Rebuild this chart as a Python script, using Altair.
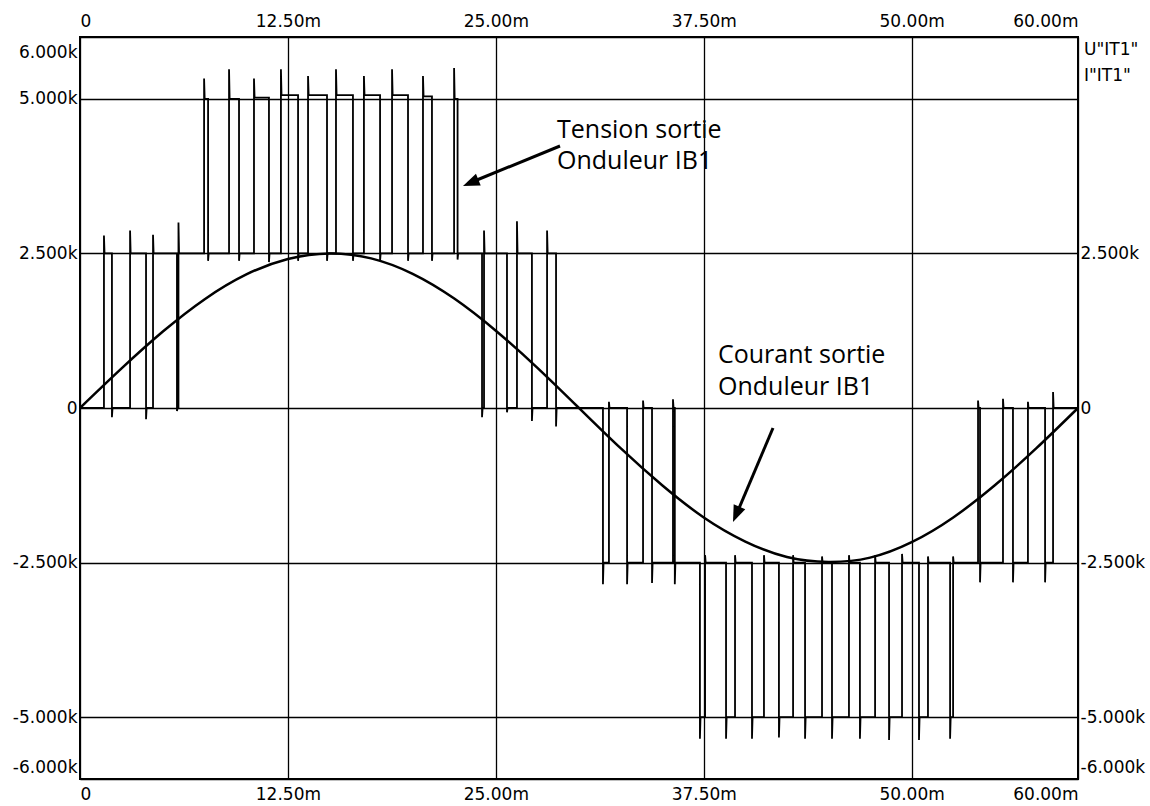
import altair as alt
import pandas as pd

# ---------------- data ----------------
x_ticks = [0, 12.5, 25, 37.5, 50, 60]            # ms
y_ticks_left = [-6, -5, -2.5, 0, 2.5, 5, 6]      # k
y_ticks_right = [-6, -5, -2.5, 0, 2.5]

# output current (k), sampled every 2.5 ms
cur_t = [0, 2.5, 5, 7.5, 10, 12.5, 15, 17.5, 20, 22.5, 25, 27.5, 30,
         32.5, 35, 37.5, 40, 42.5, 45, 47.5, 50, 52.5, 55, 57.5, 60]
cur_v = [0.0, 0.64, 1.24, 1.76, 2.16, 2.41, 2.50, 2.42, 2.17, 1.77, 1.25, 0.65, 0.0,
         -0.65, -1.25, -1.77, -2.16, -2.41, -2.49, -2.42, -2.17, -1.77, -1.25, -0.65, 0.0]

# output voltage: switching instants (ms), level after each switching (k),
# and the extreme value of the switching spike (k)
edge_t = [
    1.44, 1.92, 3.01, 3.97, 4.39, 5.83, 5.92,
    7.46, 7.70, 8.96, 9.56, 10.46, 11.36, 12.08, 13.11, 13.71, 14.85,
    15.39, 16.41, 17.07, 18.04, 18.76, 19.72, 20.62, 21.16, 22.49, 22.70,
    24.17, 24.29, 25.67, 26.27, 27.17, 28.08, 28.62,
    31.44, 31.80, 32.89, 33.85, 34.39, 35.65, 35.76,
    37.27, 37.58, 38.84, 39.38, 40.40, 41.12, 42.02, 42.87, 43.59, 44.61,
    45.21, 46.23, 46.89, 47.80, 48.64, 49.42, 50.44, 50.98, 52.31, 52.49,
    53.99, 54.11, 55.49, 56.09, 56.99, 58.02, 58.50,
]
edge_level = [
    2.5, 0, 2.5, 0, 2.5, 0, 2.5,
    5.0, 2.5, 5.0, 2.5, 5.02, 2.5, 5.06, 2.5, 5.06, 2.5,
    5.06, 2.5, 5.06, 2.5, 5.06, 2.5, 5.04, 2.5, 5.0, 2.5,
    0, 2.5, 0, 2.5, 0, 2.5, 0,
    -2.5, 0, -2.5, 0, -2.5, 0, -2.5,
    -5.0, -2.5, -5.0, -2.5, -5.0, -2.5, -5.0, -2.5, -5.0, -2.5,
    -5.0, -2.5, -5.0, -2.5, -5.0, -2.5, -5.0, -2.5, -5.0, -2.5,
    0, -2.5, 0, -2.5, 0, -2.5, 0,
]
edge_peak = [
    2.79, -0.15, 2.87, -0.18, 2.80, -0.05, 3.00,
    5.33, 2.38, 5.48, 2.38, 5.33, 2.36, 5.48, 2.38, 5.37, 2.38,
    5.48, 2.38, 5.37, 2.38, 5.48, 2.38, 5.37, 2.38, 5.50, 2.40,
    -0.15, 2.87, -0.07, 3.02, -0.21, 2.87, -0.30,
    -2.85, 0.10, -2.85, 0.12, -2.83, 0.14, -2.85,
    -5.35, -2.38, -5.35, -2.38, -5.35, -2.38, -5.33, -2.38, -5.35, -2.40,
    -5.35, -2.38, -5.35, -2.38, -5.37, -2.36, -5.37, -2.40, -5.35, -2.40,
    0.12, -2.82, 0.15, -2.82, 0.10, -2.82, 0.26,
]

ann_tension = ["Tension sortie", "Onduleur IB1"]
ann_courant = ["Courant sortie", "Onduleur IB1"]
legend_names = ['U"IT1"', 'I"IT1"']

# ---------------- tables ----------------
SETTLE = 0.035
vt, vv = [0.0], [0.0]
prev = 0.0
for t, lv, pk in zip(edge_t, edge_level, edge_peak):
    vt += [t, t, t + SETTLE]
    vv += [prev, pk, lv]
    prev = lv
vt.append(60.0)
vv.append(prev)
vdf = pd.DataFrame({"t": vt, "v": vv, "i": list(range(len(vt)))})
cdf = pd.DataFrame({"t": cur_t, "v": cur_v})

# ---------------- chart ----------------
FONT = "DejaVu Sans"
ANN_FONT = "Open Sans"
W, H = 998, 742

xscale = alt.Scale(domain=[0, 60], nice=False, zero=False)
yscale = alt.Scale(domain=[-6, 6], nice=False, zero=False)

xlab = "datum.value == 0 ? '0' : format(datum.value, '.2f') + 'm'"
ylab = ("datum.value == 0 ? '0' : (datum.value < 0 ? '-' : '') + "
        "format(abs(datum.value), '.3f') + 'k'")
yoff = {"expr": "datum.value >= 6 ? 15 : (datum.value <= -6 ? -12 : 0)"}

common = dict(ticks=False, domain=False, title=None, labelFont=FONT,
              labelFontSize=17, labelColor="black")

volt = alt.Chart(vdf).mark_line(color="black", strokeWidth=1.8).encode(
    x=alt.X("t:Q", scale=xscale,
            axis=alt.Axis(orient="bottom", values=x_ticks, labelExpr=xlab,
                          labelFlush=True, labelPadding=7, grid=True,
                          gridColor="black", gridWidth=1.3, gridOpacity=1,
                          **common)),
    y=alt.Y("v:Q", scale=yscale,
            axis=alt.Axis(orient="left", values=y_ticks_left, labelExpr=ylab,
                          labelPadding=3, labelOffset=yoff, grid=True,
                          gridColor="black", gridWidth=1.3, gridOpacity=1,
                          **common)),
    order=alt.Order("i:Q"),
)

cur = alt.Chart(cdf).mark_line(color="black", strokeWidth=2.5,
                               interpolate="natural").encode(
    x=alt.X("t:Q", scale=xscale,
            axis=alt.Axis(orient="top", values=x_ticks, labelExpr=xlab,
                          labelFlush=True, labelPadding=7, grid=False, **common)),
    y=alt.Y("v:Q", scale=yscale,
            axis=alt.Axis(orient="right", values=y_ticks_right, labelExpr=ylab,
                          labelPadding=2, labelOffset=yoff, grid=False, **common)),
)


def text_layer(s, x, y, font, size, baseline="alphabetic"):
    return alt.Chart(pd.DataFrame({"s": [s]})).mark_text(
        align="left", baseline=baseline, font=font, fontSize=size, color="black"
    ).encode(x=alt.value(x), y=alt.value(y), text="s:N")


texts = [
    text_layer(ann_tension[0], 477, 101, ANN_FONT, 25),
    text_layer(ann_tension[1], 477, 132, ANN_FONT, 25),
    text_layer(ann_courant[0], 638, 326, ANN_FONT, 25),
    text_layer(ann_courant[1], 638, 358, ANN_FONT, 25),
    text_layer(legend_names[0], 1004, 13, FONT, 17, "middle"),
    text_layer(legend_names[1], 1004, 39, FONT, 17, "middle"),
]

HEAD = "M0,0L0.38,1L-0.38,1Z"


def arrow(x1, y1, x2, y2, xe, ye, ang):
    line = alt.Chart(pd.DataFrame({"a": [0]})).mark_rule(
        color="black", strokeWidth=3).encode(
        x=alt.value(x1), y=alt.value(y1), x2=alt.value(xe), y2=alt.value(ye))
    head = alt.Chart(pd.DataFrame({"a": [0]})).mark_point(
        shape=HEAD, filled=True, color="black", opacity=1, size=1100,
        angle=ang, strokeWidth=0).encode(x=alt.value(x2), y=alt.value(y2))
    return [line, head]


arrows = (arrow(480, 109, 383, 149, 392, 145, 247.6)
          + arrow(693, 391, 653, 485, 657, 476, 203.0))

chart = alt.layer(volt, cur, *texts, *arrows).resolve_scale(
    x="shared", y="shared"
).resolve_axis(
    x="independent", y="independent"
).properties(
    width=W, height=H,
    autosize=alt.AutoSizeParams(type="none"),
    padding={"left": 80, "top": 37, "right": 72, "bottom": 27},
    background="white",
).configure_view(stroke="black", strokeWidth=2)

chart.save("out.html", embed_options={"renderer": "svg", "actions": False})
